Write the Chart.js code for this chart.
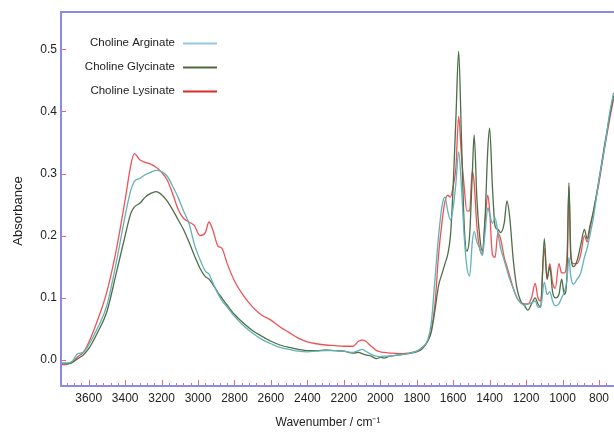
<!DOCTYPE html>
<html>
<head>
<meta charset="utf-8">
<script src="https://cdn.jsdelivr.net/npm/chart.js@4"></script>
<style>
  html, body { margin: 0; padding: 0; background: #fff; }
  #wrap { width: 614px; height: 432px; }
</style>
</head>
<body>
<div id="wrap"><canvas id="ftir" width="614" height="432"></canvas></div>
<script>
const wavenumbers = [3750, 3720, 3690, 3660, 3630, 3600, 3550, 3500, 3450, 3400, 3370, 3350, 3320, 3290, 3260, 3230, 3200, 3170, 3140, 3110, 3080, 3050, 3020, 2990, 2960, 2940, 2920, 2890, 2870, 2840, 2800, 2750, 2700, 2650, 2600, 2550, 2500, 2450, 2400, 2350, 2300, 2250, 2200, 2150, 2120, 2100, 2080, 2050, 2020, 2000, 1980, 1950, 1900, 1850, 1800, 1770, 1740, 1720, 1700, 1680, 1660, 1645, 1630, 1615, 1600, 1585, 1570, 1555, 1540, 1525, 1510, 1495, 1485, 1470, 1455, 1440, 1425, 1410, 1400, 1385, 1370, 1355, 1340, 1320, 1305, 1290, 1270, 1250, 1230, 1210, 1190, 1170, 1150, 1135, 1120, 1100, 1085, 1070, 1055, 1040, 1020, 1005, 990, 975, 965, 955, 940, 920, 900, 880, 865, 850, 830, 800, 770, 740, 720];

const arginate = [-0.005, -0.005, -0.002, 0.01, 0.012, 0.024, 0.052, 0.088, 0.155, 0.232, 0.272, 0.287, 0.292, 0.298, 0.302, 0.305, 0.303, 0.296, 0.28, 0.262, 0.24, 0.22, 0.186, 0.162, 0.143, 0.138, 0.125, 0.106, 0.096, 0.085, 0.07, 0.055, 0.043, 0.033, 0.026, 0.02, 0.017, 0.014, 0.013, 0.014, 0.015, 0.015, 0.014, 0.012, 0.015, 0.017, 0.014, 0.009, 0.006, 0.005, 0.006, 0.006, 0.008, 0.01, 0.014, 0.02, 0.032, 0.06, 0.13, 0.2, 0.25, 0.262, 0.24, 0.225, 0.245, 0.285, 0.335, 0.28, 0.2, 0.15, 0.135, 0.19, 0.207, 0.19, 0.18, 0.168, 0.205, 0.245, 0.235, 0.22, 0.228, 0.205, 0.18, 0.16, 0.145, 0.13, 0.115, 0.1, 0.092, 0.088, 0.09, 0.092, 0.095, 0.085, 0.085, 0.125, 0.105, 0.11, 0.095, 0.087, 0.09, 0.1, 0.11, 0.13, 0.165, 0.135, 0.122, 0.13, 0.14, 0.165, 0.18, 0.2, 0.23, 0.29, 0.34, 0.4, 0.43];

const glycinate = [-0.006, -0.006, -0.004, 0.002, 0.008, 0.018, 0.045, 0.078, 0.138, 0.2, 0.235, 0.246, 0.252, 0.262, 0.268, 0.271, 0.266, 0.256, 0.242, 0.226, 0.21, 0.19, 0.168, 0.148, 0.134, 0.13, 0.122, 0.108, 0.1, 0.088, 0.073, 0.059, 0.047, 0.038, 0.03, 0.024, 0.02, 0.017, 0.015, 0.015, 0.016, 0.015, 0.014, 0.011, 0.012, 0.01, 0.008, 0.006, 0.002, 0.004, 0.003, 0.006, 0.008, 0.01, 0.013, 0.018, 0.03, 0.045, 0.08, 0.12, 0.14, 0.155, 0.17, 0.2, 0.28, 0.39, 0.497, 0.36, 0.22, 0.175, 0.2, 0.3, 0.362, 0.26, 0.2, 0.175, 0.23, 0.34, 0.373, 0.28, 0.215, 0.21, 0.205, 0.22, 0.256, 0.23, 0.16, 0.115, 0.095, 0.088, 0.08, 0.09, 0.1, 0.09, 0.085, 0.195, 0.13, 0.15, 0.11, 0.1, 0.105, 0.13, 0.105, 0.14, 0.285, 0.175, 0.15, 0.16, 0.185, 0.21, 0.195, 0.215, 0.24, 0.29, 0.345, 0.395, 0.425];

const lysinate = [-0.008, -0.007, -0.004, 0.005, 0.012, 0.028, 0.065, 0.11, 0.175, 0.258, 0.312, 0.332, 0.322, 0.318, 0.315, 0.31, 0.302, 0.29, 0.268, 0.243, 0.228, 0.222, 0.216, 0.2, 0.205, 0.222, 0.21, 0.183, 0.18, 0.155, 0.127, 0.103, 0.085, 0.072, 0.064, 0.053, 0.044, 0.035, 0.029, 0.026, 0.024, 0.023, 0.022, 0.022, 0.03, 0.032, 0.03, 0.022, 0.015, 0.013, 0.012, 0.011, 0.01, 0.011, 0.014, 0.02, 0.03, 0.048, 0.09, 0.17, 0.225, 0.255, 0.265, 0.262, 0.28, 0.31, 0.392, 0.33, 0.28, 0.24, 0.24, 0.305, 0.285, 0.215, 0.18, 0.17, 0.225, 0.265, 0.24, 0.17, 0.165, 0.205, 0.195, 0.165, 0.15, 0.135, 0.115, 0.1, 0.092, 0.09, 0.09, 0.1, 0.123, 0.1, 0.095, 0.18, 0.13, 0.155, 0.125, 0.115, 0.155, 0.14, 0.14, 0.17, 0.28, 0.165, 0.155, 0.155, 0.17, 0.2, 0.19, 0.21, 0.24, 0.285, 0.34, 0.39, 0.42];

const xTicks = [3600, 3400, 3200, 3000, 2800, 2600, 2400, 2200, 2000, 1800, 1600, 1400, 1200, 1000, 800];
const yTicks = [0, 0.1, 0.2, 0.3, 0.4, 0.5];

const FONT = '"Liberation Sans", Arial, sans-serif';
const AXIS_BLUE = '#8a8ae8';
const TICK_RED = '#e86a6a';

function pts(vals) {
    return wavenumbers.map((w, i) => ({ x: w, y: vals[i] }));
}

// frame, inward ticks, titles and legend
const decor = {
    id: 'decor',
    afterDraw(chart) {
        const ctx = chart.ctx;
        const a = chart.chartArea;
        const xs = chart.scales.x;
        const ys = chart.scales.y;
        ctx.save();

        ctx.strokeStyle = TICK_RED;
        ctx.lineWidth = 1;
        yTicks.forEach(v => {
            const y = Math.round(ys.getPixelForValue(v)) + 0.5;
            ctx.beginPath();
            ctx.moveTo(a.left, y);
            ctx.lineTo(a.left + 5, y);
            ctx.stroke();
        });
        for (let w = 3720; w >= 720; w -= 40) {
            const x = Math.round(xs.getPixelForValue(w)) + 0.5;
            const major = w % 200 === 0;
            ctx.beginPath();
            ctx.moveTo(x, a.bottom);
            ctx.lineTo(x, a.bottom - (major ? 6 : 3));
            ctx.stroke();
        }

        ctx.strokeStyle = AXIS_BLUE;
        ctx.lineWidth = 2;
        ctx.beginPath();
        ctx.moveTo(a.right, a.top);
        ctx.lineTo(a.left, a.top);
        ctx.lineTo(a.left, a.bottom);
        ctx.lineTo(a.right, a.bottom);
        ctx.stroke();

        ctx.fillStyle = '#222';
        ctx.font = '12px ' + FONT;
        ctx.textAlign = 'center';
        ctx.textBaseline = 'middle';
        ctx.fillText('Wavenumber / cm\u207B\u00B9', 328, 423);
        ctx.save();
        ctx.translate(18, 211);
        ctx.rotate(-Math.PI / 2);
        ctx.font = '13px ' + FONT;
        ctx.fillText('Absorbance', 0, 0);
        ctx.restore();

        ctx.font = '11.5px ' + FONT;
        ctx.textAlign = 'right';
        chart.data.datasets.forEach((ds, i) => {
            const y = 43 + i * 24;
            ctx.fillStyle = '#222';
            ctx.fillText(ds.label, 175, y);
            ctx.strokeStyle = ds.legendColor;
            ctx.lineWidth = 2;
            ctx.beginPath();
            ctx.moveTo(183, y + 0.5);
            ctx.lineTo(217, y + 0.5);
            ctx.stroke();
        });
        ctx.restore();
    }
};

new Chart(document.getElementById('ftir'), {
    type: 'line',
    data: {
        datasets: [
            { label: 'Choline Arginate', data: pts(arginate), borderColor: '#62b2b6', legendColor: '#92c8e4' },
            { label: 'Choline Glycinate', data: pts(glycinate), borderColor: '#4d6e47', legendColor: '#4d6a3c' },
            { label: 'Choline Lysinate', data: pts(lysinate), borderColor: '#ec5358', legendColor: '#e02a2a' }
        ]
    },
    options: {
        responsive: false,
        animation: false,
        layout: { padding: { top: 12, right: 0, left: 0, bottom: 0 } },
        elements: {
            point: { radius: 0 },
            line: { borderWidth: 1.3, cubicInterpolationMode: 'monotone' }
        },
        plugins: {
            legend: { display: false },
            tooltip: { enabled: false }
        },
        scales: {
            x: {
                type: 'linear',
                reverse: true,
                min: 718,
                max: 3752,
                afterBuildTicks: s => { s.ticks = xTicks.map(v => ({ value: v })); },
                afterFit: s => { s.height = 46; },
                grid: { display: false, drawTicks: false },
                border: { display: false },
                ticks: {
                    padding: 5,
                    maxRotation: 0,
                    color: '#222',
                    font: { family: FONT, size: 12 },
                    callback: v => String(v)
                }
            },
            y: {
                min: -0.042,
                max: 0.56,
                afterBuildTicks: s => { s.ticks = yTicks.map(v => ({ value: v })); },
                afterFit: s => { s.width = 61; },
                grid: { display: false, drawTicks: false },
                border: { display: false },
                ticks: {
                    padding: 4,
                    color: '#222',
                    font: { family: FONT, size: 12 },
                    callback: v => v.toFixed(1)
                }
            }
        }
    },
    plugins: [decor]
});
</script>
</body>
</html>
